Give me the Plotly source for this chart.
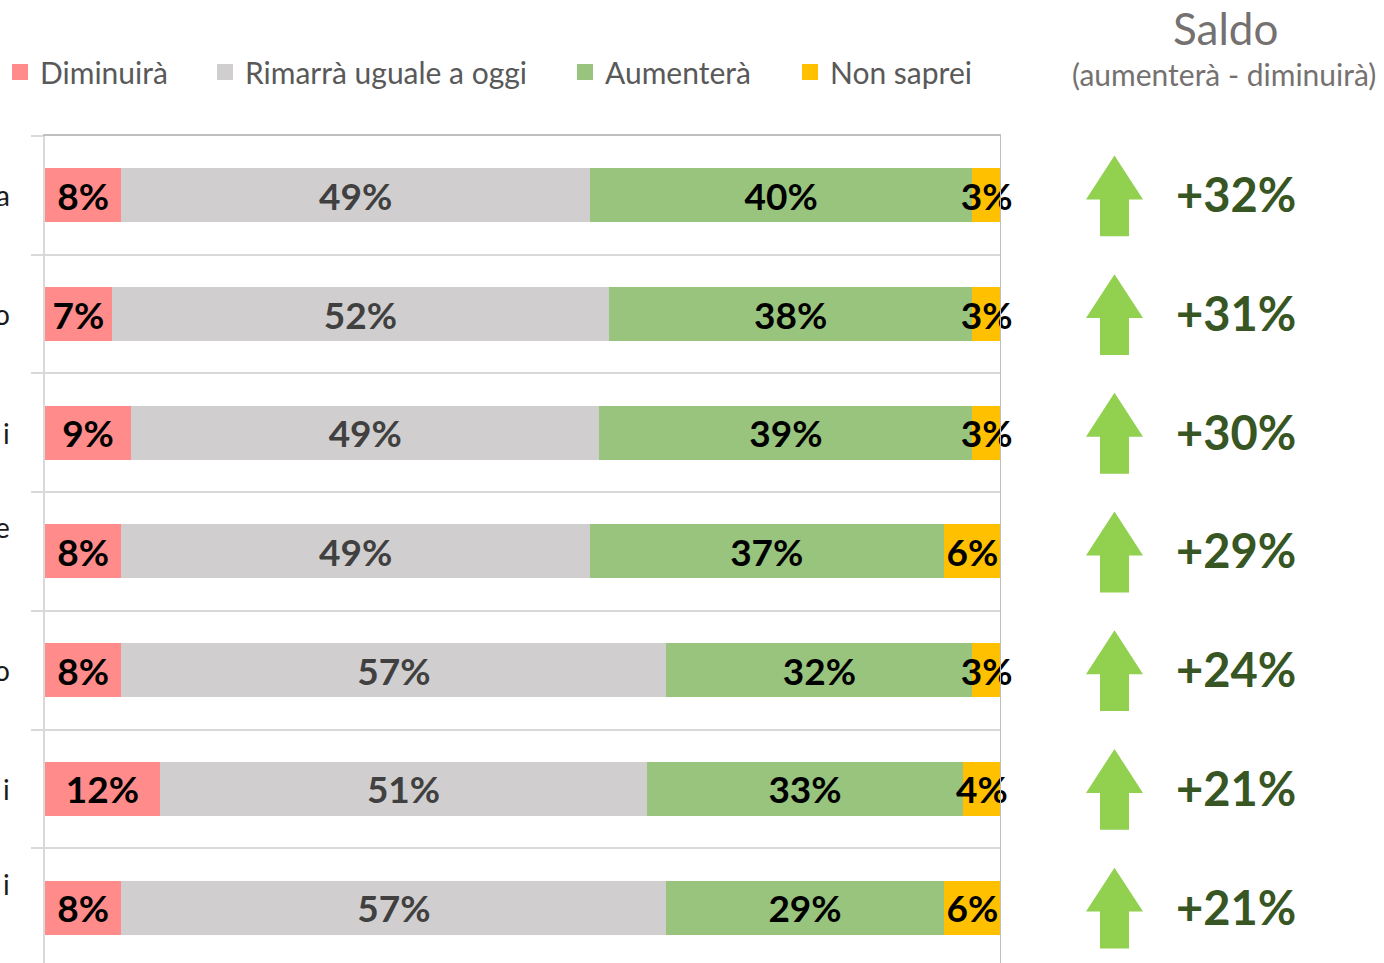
import plotly.graph_objects as go

# data
rows = ["a", "o", "i", "e", "o", "i", "i"]  # only the last letters are visible
series = ["Diminuirà", "Rimarrà uguale a oggi", "Aumenterà", "Non saprei"]
diminuira = [8, 7, 9, 8, 8, 12, 8]
uguale = [49, 52, 49, 49, 57, 51, 57]
aumentera = [40, 38, 39, 37, 32, 33, 29]
non_saprei = [3, 3, 3, 6, 3, 4, 6]
saldo = [32, 31, 30, 29, 24, 21, 21]

colors = ["#FF8B8B", "#D0CECE", "#98C47E", "#FFC000"]
text_colors = ["#000000", "#404040", "#000000", "#000000"]
label_shift = [0, 0, 0, 24, 0, 0, 24]

W, H = 1384, 963
ML, MT = 45, 136
PW = W - ML          # plot width in px
PH = H - MT          # plot height in px
ROW = 118.7          # px per row
x_end = 956 / PW
x2_start = 1040

idx = list(range(len(rows)))
y_range = [-0.5 + PH / ROW, -0.5]

fig = go.Figure()

for name, vals, col, tcol in zip(series, [diminuira, uguale, aumentera, non_saprei], colors, text_colors):
    fig.add_trace(go.Bar(
        y=idx, x=vals, orientation="h", name=name,
        marker=dict(color=col, line=dict(width=0)),
        text=[f"{v}%" for v in vals],
        textposition="inside", insidetextanchor="middle",
        constraintext="none", textangle=0, cliponaxis=False,
        textfont=dict(family="Lato", size=37, color=tcol, weight="bold"),
        showlegend=False, hoverinfo="skip",
    ))

# legend entries (one legend each, to space them like the original)
legend_x = [0, 205, 565, 790]
for i, (name, col) in enumerate(zip(series, colors)):
    lg = "legend" if i == 0 else f"legend{i + 1}"
    fig.add_trace(go.Scatter(
        x=[None], y=[None], mode="markers", name=name,
        marker=dict(symbol="square", size=16, color=col),
        legend=lg, showlegend=True,
    ))

# invisible trace so the right-hand subplot exists
fig.add_trace(go.Scatter(x=[None], y=[None], xaxis="x2", yaxis="y2",
                         showlegend=False, hoverinfo="skip"))

shapes = []
for i in idx:
    tip, base, bottom = i - 0.336, i + 0.034, i + 0.345
    path = (f"M 1114.5,{tip} L 1143,{base} L 1129,{base} L 1129,{bottom} "
            f"L 1100,{bottom} L 1100,{base} L 1086,{base} Z")
    shapes.append(dict(type="path", path=path, xref="x2", yref="y2",
                       fillcolor="#92D050", line=dict(width=0)))
shapes.append(dict(type="line", xref="x", yref="paper", x0=100, x1=100, y0=0, y1=1,
                   line=dict(color="#BFBFBF", width=2)))

annotations = []
for i, lab in enumerate(rows):
    annotations.append(dict(
        text=lab, xref="paper", yref="y", x=(12 - ML) / PW, y=i, yshift=label_shift[i],
        xanchor="right", yanchor="middle", showarrow=False,
        font=dict(family="Lato", size=28, color="#1A1A1A"),
    ))
for i, v in enumerate(saldo):
    annotations.append(dict(
        text=f"+{v}%", xref="x2", yref="y2", x=1174, y=i, yshift=1,
        xanchor="left", yanchor="middle", showarrow=False,
        font=dict(family="Lato", size=47, color="#375623", weight="bold"),
    ))
annotations.append(dict(
    text="Saldo", xref="paper", yref="paper", x=(1225 - ML) / PW, y=1 + (MT - 28) / PH,
    xanchor="center", yanchor="middle", showarrow=False,
    font=dict(family="Lato", size=44, color="#767171"),
))
annotations.append(dict(
    text="(aumenterà - diminuirà)", xref="paper", yref="paper", x=(1224 - ML) / PW,
    y=1 + (MT - 74) / PH, xanchor="center", yanchor="middle", showarrow=False,
    font=dict(family="Lato", size=30, color="#767171"),
))

legend_style = dict(orientation="h", yanchor="middle", xanchor="left",
                    y=1 + (MT - 72) / PH, bgcolor="rgba(0,0,0,0)",
                    font=dict(family="Lato", size=30, color="#595959"))
legends = {}
for i, lx in enumerate(legend_x):
    lg = "legend" if i == 0 else f"legend{i + 1}"
    legends[lg] = dict(legend_style, x=(lx - ML) / PW)

fig.update_layout(
    width=W, height=H,
    margin=dict(l=ML, r=0, t=MT, b=0),
    paper_bgcolor="white", plot_bgcolor="white",
    barmode="stack", bargap=0.545,
    xaxis=dict(domain=[0, x_end], range=[0, 100], side="top", showline=True,
               linecolor="#BFBFBF", linewidth=2, showticklabels=False, ticks="",
               showgrid=False, zeroline=False, fixedrange=True),
    yaxis=dict(range=y_range, tickvals=[k - 0.5 for k in range(len(rows) + 1)],
               showticklabels=False, ticks="outside", ticklen=12, tickwidth=2,
               tickcolor="#D9D9D9", showgrid=True, gridcolor="#D9D9D9", gridwidth=2,
               showline=True, linecolor="#D9D9D9", linewidth=2, zeroline=False),
    xaxis2=dict(domain=[(x2_start - ML) / PW, 1], range=[x2_start, W], anchor="y2",
                visible=False),
    yaxis2=dict(range=y_range, anchor="x2", visible=False),
    shapes=shapes, annotations=annotations,
    showlegend=True,
    **legends,
)

# the page's default body margin would shift the whole chart by 8px
fig.write_html("out.html", config={"displayModeBar": False},
               post_script="document.body.style.margin = '0';")
